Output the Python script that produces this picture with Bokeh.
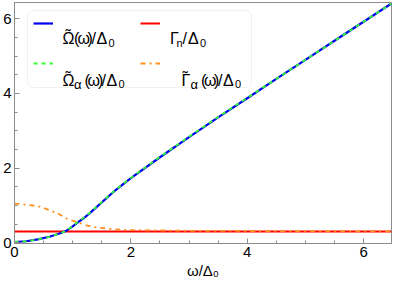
from bokeh.plotting import figure
from bokeh.models import (Range1d, SingleIntervalTicker, Legend, LegendItem,
                          Label, BoxAnnotation)
from bokeh.embed import file_html
from bokeh.resources import INLINE

# ---- data ----
omega = [0.0, 0.2, 0.4, 0.6, 0.8, 0.9, 1.0, 1.1, 1.2, 1.3, 1.4, 1.5, 1.7,
         2.0, 2.5, 3.0, 3.5, 4.0, 4.5, 5.0, 5.5, 6.0, 6.48]
Omega_t = [0.02, 0.04, 0.09, 0.16, 0.26, 0.33, 0.44, 0.56, 0.67, 0.80, 0.94,
           1.08, 1.36, 1.73, 2.29, 2.83, 3.36, 3.87, 4.39, 4.90, 5.41, 5.92, 6.41]
Omega_a = [0.02, 0.04, 0.09, 0.16, 0.26, 0.33, 0.45, 0.57, 0.68, 0.81, 0.95,
           1.09, 1.37, 1.74, 2.30, 2.84, 3.37, 3.88, 4.39, 4.90, 5.41, 5.92, 6.41]
omega_g = [0.0, 0.1, 0.26, 0.43, 0.59, 0.76, 0.92, 1.08, 1.25, 1.41, 1.58,
           1.8, 2.0, 2.5, 3.0, 4.0, 5.0, 6.48]
Gamma_a = [1.05, 1.04, 1.01, 0.97, 0.88, 0.77, 0.63, 0.55, 0.46, 0.41, 0.38,
           0.35, 0.34, 0.33, 0.32, 0.315, 0.31, 0.305]
omega_n = [0.0, 6.48]
Gamma_n = [0.3, 0.3]

x_ticks_major = 2
y_ticks_major = 2

FONT = "Liberation Sans"
FRAME = "#8c8c8c"
X0, X1 = 0.0, 6.48
Y0, Y1 = -0.02, 6.435

p = figure(width=393, height=281, output_backend="svg", toolbar_location=None,
           x_range=Range1d(X0, X1), y_range=Range1d(Y0, Y1),
           min_border_left=14, min_border_right=2, min_border_top=2,
           min_border_bottom=10)
p.grid.visible = False
p.outline_line_color = FRAME
p.outline_line_width = 1
p.background_fill_color = "white"
p.border_fill_color = "white"

p.xaxis.ticker = SingleIntervalTicker(interval=x_ticks_major, num_minor_ticks=4)
p.yaxis.ticker = SingleIntervalTicker(interval=y_ticks_major, num_minor_ticks=4)
for ax in (p.xaxis, p.yaxis):
    ax.axis_line_color = FRAME
    ax.major_tick_line_color = FRAME
    ax.minor_tick_line_color = FRAME
    ax.major_tick_in = 5
    ax.major_tick_out = 0
    ax.minor_tick_in = 3
    ax.minor_tick_out = 0
    ax.major_label_text_font = FONT
    ax.major_label_text_font_size = "15px"
    ax.major_label_text_color = "black"
    ax.major_label_standoff = 3
p.xaxis.axis_label = "ω/Δ₀"
p.xaxis.axis_label_text_font = FONT
p.xaxis.axis_label_text_font_size = "15px"
p.xaxis.axis_label_text_font_style = "normal"
p.xaxis.axis_label_text_color = "black"
p.xaxis.axis_label_standoff = 2

# ---- curves ----
r_red = p.line(omega_n, Gamma_n, line_color="#ff0000", line_width=2)
r_orange = p.line(omega_g, Gamma_a, line_color="#ff9020", line_width=1.8,
                  line_dash="5 4 2 4")
r_blue = p.line(omega, Omega_t, line_color="#0000ee", line_width=2.2)
r_green = p.line(omega, Omega_a, line_color="#33ff33", line_width=1.8,
                 line_dash="4 4")

# ---- legend (manual) ----
# frame in pixels: left 14, right 391, top 2, bottom 243
def rx(px):
    return X0 + (px - 14) / 377 * (X1 - X0)

def ry(py):
    return Y0 + (243 - py) / 241 * (Y1 - Y0)

box = BoxAnnotation(left=rx(27), right=rx(251), top=ry(10), bottom=ry(87),
                    fill_color="white", fill_alpha=0.9,
                    line_color="#d0d0d0", line_width=1, border_radius=6)
p.add_layout(box)

common = dict(glyph_width=20, glyph_height=20, label_height=20, label_width=0,
              label_standoff=0, spacing=20, padding=0, margin=0,
              border_line_color=None, background_fill_alpha=0)
leg1 = Legend(items=[LegendItem(label=" ", renderers=[r_blue]),
                     LegendItem(label=" ", renderers=[r_green])],
              location=(19, 170), **common)
leg2 = Legend(items=[LegendItem(label=" ", renderers=[r_red]),
                     LegendItem(label=" ", renderers=[r_orange])],
              location=(126, 170), **common)
p.add_layout(leg1)
p.add_layout(leg2)

def piece(px, base, s, sub=False, dy=0, dx=0, size=None):
    p.add_layout(Label(x=rx(px), y=ry(base), text=s, x_offset=dx,
                       y_offset=(-4 if sub else 0) + dy,
                       text_font=FONT,
                       text_font_size=size or ("11px" if sub else "16px"),
                       text_color="black", text_baseline="alphabetic",
                       text_align="left"))

B1, B2 = 38, 79.5
# row 1 col 1: Ω̃(ω)/Δ0
piece(62, B1, "Ω")
piece(62, B1, "˜", dx=3, dy=3)
piece(73.5, B1, "(")
piece(77, B1, "ω")
piece(87, B1, ")")
piece(91, B1, "/")
piece(96, B1, "Δ")
piece(108, B1, "0", sub=True)
# row 2 col 1: Ω̃α(ω)/Δ0
piece(62, B2, "Ω")
piece(62, B2, "˜", dx=3, dy=3)
piece(73.5, B2, "α", sub=True, size="13px")
piece(84, B2, "(")
piece(87, B2, "ω")
piece(97.5, B2, ")")
piece(101, B2, "/")
piece(106, B2, "Δ")
piece(118, B2, "0", sub=True)
# row 1 col 2: Γn/Δ0
piece(169.5, B1, "Γ")
piece(176, B1, "n", sub=True)
piece(182, B1, "/")
piece(187.5, B1, "Δ")
piece(199.5, B1, "0", sub=True)
# row 2 col 2: Γ̃α(ω)/Δ0
piece(181, B2, "Γ")
piece(181, B2, "˜", dx=1, dy=3)
piece(190, B2, "α", sub=True, size="13px")
piece(200.5, B2, "(")
piece(203.5, B2, "ω")
piece(213.5, B2, ")")
piece(217.5, B2, "/")
piece(222.5, B2, "Δ")
piece(234.5, B2, "0", sub=True)

open("out.html", "w").write(file_html(p, INLINE))
